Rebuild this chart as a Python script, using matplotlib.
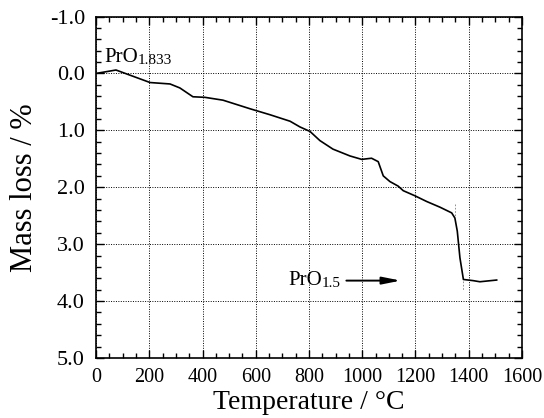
import matplotlib
matplotlib.use("Agg")
import matplotlib.pyplot as plt
from matplotlib.ticker import MultipleLocator

plt.rcParams['font.family'] = ['Liberation Serif', 'DejaVu Serif']

# TG trace
temperature = [0, 75, 203, 278, 315, 364, 409, 477, 578, 653, 729, 766, 804, 841,
               890, 954, 998, 1035, 1060, 1079, 1104, 1135, 1154, 1198, 1242, 1292,
               1336, 1348, 1357, 1367, 1380, 1416, 1442, 1505]
mass_loss = [0.0, -0.06, 0.16, 0.185, 0.255, 0.41, 0.42, 0.47, 0.62, 0.725, 0.84, 0.94,
             1.02, 1.18, 1.33, 1.45, 1.51, 1.49, 1.55, 1.80, 1.90, 1.98, 2.06, 2.15,
             2.25, 2.35, 2.45, 2.54, 2.77, 3.24, 3.62, 3.64, 3.66, 3.63]

x_ticks = [0, 200, 400, 600, 800, 1000, 1200, 1400, 1600]
y_ticks = [-1.0, 0.0, 1.0, 2.0, 3.0, 4.0, 5.0]

fig = plt.figure(figsize=(5.44, 4.18), dpi=100)
ax = fig.add_axes([0.1765, 0.1435, 0.783, 0.817])

ax.plot(temperature, mass_loss, color='black', lw=1.2)

# faint scan marks near the drop
ax.plot([1348, 1348], [2.3, 2.5], color='0.5', lw=0.6, ls=(0, (2, 2)))
ax.plot([1378, 1378], [3.65, 3.8], color='0.5', lw=0.6, ls=(0, (2, 2)))

ax.set_xlim(0, 1600)
ax.set_ylim(5.0, -1.0)
ax.set_xticks(x_ticks)
ax.set_yticks(y_ticks)
ax.set_yticklabels([f'{v:.1f}' for v in y_ticks])
ax.xaxis.set_minor_locator(MultipleLocator(50))
ax.yaxis.set_minor_locator(MultipleLocator(0.2))
ax.tick_params(which='both', direction='in', top=True, right=True,
               width=1.0, color='black')
ax.tick_params(which='major', length=6)
ax.tick_params(which='minor', length=3.5)
ax.tick_params(axis='x', pad=7, labelsize=14.5)
ax.tick_params(axis='y', pad=8, labelsize=16)
for sp in ax.spines.values():
    sp.set_linewidth(1.2)

ax.grid(True, which='major', color='black', ls=(0, (1, 1.5)), lw=0.7)

ax.set_xlabel('Temperature / °C', fontsize=20, labelpad=2)
ax.set_ylabel('Mass loss / %', fontsize=22, labelpad=8)

# labels with small, barely lowered subscripts
fig.canvas.draw()
renderer = fig.canvas.get_renderer()


def formula(x, y, sub):
    t = ax.text(x, y, 'PrO', fontsize=15, ha='left', va='baseline')
    bb = t.get_window_extent(renderer)
    inv = ax.transData.inverted()
    x2, _ = inv.transform((bb.x1, bb.y0))
    ax.text(x2, y + 0.03, sub, fontsize=11, ha='left', va='baseline')
    return t


formula(30, -0.2, '1.833')
formula(721, 3.72, '1.5')

ax.annotate('', xy=(1155, 3.64), xytext=(930, 3.64),
            arrowprops=dict(arrowstyle='-|>,head_length=1.1,head_width=0.22',
                            color='black', lw=1.4))

fig.savefig('out.png', dpi=100)
